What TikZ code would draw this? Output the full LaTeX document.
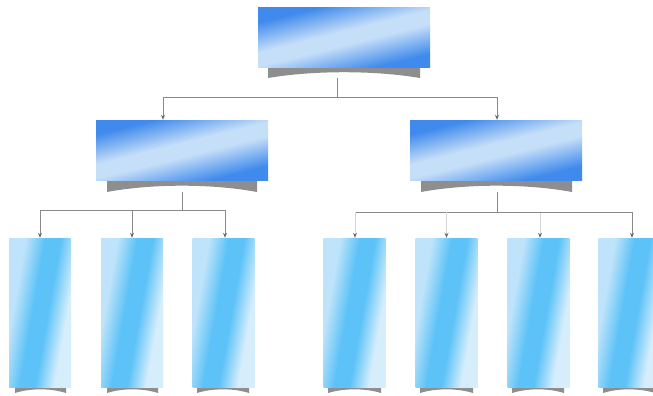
\documentclass[tikz,border=0pt]{standalone}
\usetikzlibrary{arrows.meta}
\definecolor{bdark}{HTML}{3F8AEC}
\definecolor{blight}{HTML}{C6DFF9}
\definecolor{cmid}{HTML}{5CC2F7}
\definecolor{cleft}{HTML}{BEE3FA}
\definecolor{cright}{HTML}{D6EEFC}
\definecolor{shgray}{HTML}{8E8E8E}
\definecolor{lngray}{HTML}{8A8A8A}
\definecolor{tipgray}{HTML}{6A6A6A}
\pgfdeclareverticalshading{bigsh}{100bp}{color(0bp)=(bdark); color(28bp)=(bdark); color(46bp)=(blight); color(54bp)=(blight); color(72bp)=(bdark); color(100bp)=(bdark)}
\pgfdeclareverticalshading{tallsh}{100bp}{color(0bp)=(cright); color(32bp)=(cright); color(45bp)=(cmid); color(55bp)=(cmid); color(68bp)=(cleft); color(100bp)=(cleft)}
\newcommand\bandshadow[4]{%
  \fill[shgray] (#1,#3) -- (#2,#3) -- (#2,{#3+#4})
    .. controls ({#2-(#2-#1)*0.3},{#3+0.3*#4}) and ({#1+(#2-#1)*0.3},{#3+0.3*#4}) .. (#1,{#3+#4}) -- cycle;}
\begin{document}
\begin{tikzpicture}[x=1pt,y=-1pt,
  bigbox/.style={minimum width=172pt,minimum height=60pt,inner sep=0pt,draw=none,
    shading=bigsh,shading angle=14},
  tallbox/.style={minimum width=62pt,minimum height=149pt,inner sep=0pt,draw=none,
    shading=tallsh,shading angle=80},
  conn/.style={draw=lngray,line width=1pt},
  arr/.style={conn,-{Stealth[length=5pt,width=4pt,color=tipgray]}},
  farr/.style={draw=lngray!35,line width=0.8pt,-{Stealth[length=5pt,width=4pt,color=tipgray]}}]
\useasboundingbox (0,0) rectangle (653,396);
\fill[white] (0,0) rectangle (653,396);
\clip (0,0) rectangle (653,396);
% shadows
\bandshadow{268}{420}{67}{11}
\bandshadow{107}{257}{180}{12}
\bandshadow{421}{572}{180}{12}
\bandshadow{15}{66}{386}{7}
\bandshadow{107}{158}{386}{7}
\bandshadow{197}{249}{386}{7}
\bandshadow{328}{381}{386}{7}
\bandshadow{420}{473}{386}{7}
\bandshadow{512}{564}{386}{7}
\bandshadow{603}{655}{386}{7}
% boxes
\node[bigbox] (t) at (344,38) {};
\node[bigbox] (ml) at (182,150) {};
\node[bigbox] (mr) at (496,150) {};
\node[tallbox] (b1) at (40,312.5) {};
\node[tallbox] (b2) at (132,312.5) {};
\node[tallbox] (b3) at (223.5,312.5) {};
\node[tallbox] (b4) at (354.5,312.5) {};
\node[tallbox] (b5) at (446.5,312.5) {};
\node[tallbox] (b6) at (538.5,312.5) {};
\node[tallbox] (b7) at (629.5,312.5) {};
% junctions
\coordinate (ts) at (337,78);
\coordinate (tj) at (337,97);
\coordinate (ls) at (182,192);
\coordinate (lj) at (182,210);
\coordinate (rs) at (497,192);
\coordinate (rj) at (497,212);
% connectors
\draw[conn] (ts) -- (tj);
\draw[arr] (tj) -| ([xshift=-19pt]ml.north);
\draw[arr] (tj) -| ([xshift=1pt]mr.north);
\draw[conn] (ls) -- (lj);
\draw[arr] (lj) -| (b1.north);
\draw[arr] (lj) -| (b2.north);
\draw[arr] (lj) -| ([xshift=1.5pt]b3.north);
\draw[conn] (rs) -- (rj);
\draw[conn] (rj) -- ([xshift=0.5pt]rj -| b4.north);
\draw[farr] ([xshift=0.5pt]rj -| b4.north) -- ([xshift=0.5pt]b4.north);
\draw[farr] (rj -| b5.north) -- (b5.north);
\draw[farr] ([xshift=1.5pt]rj -| b6.north) -- ([xshift=1.5pt]b6.north);
\draw[arr] (rj) -| ([xshift=2.5pt]b7.north);
\end{tikzpicture}
\end{document}
